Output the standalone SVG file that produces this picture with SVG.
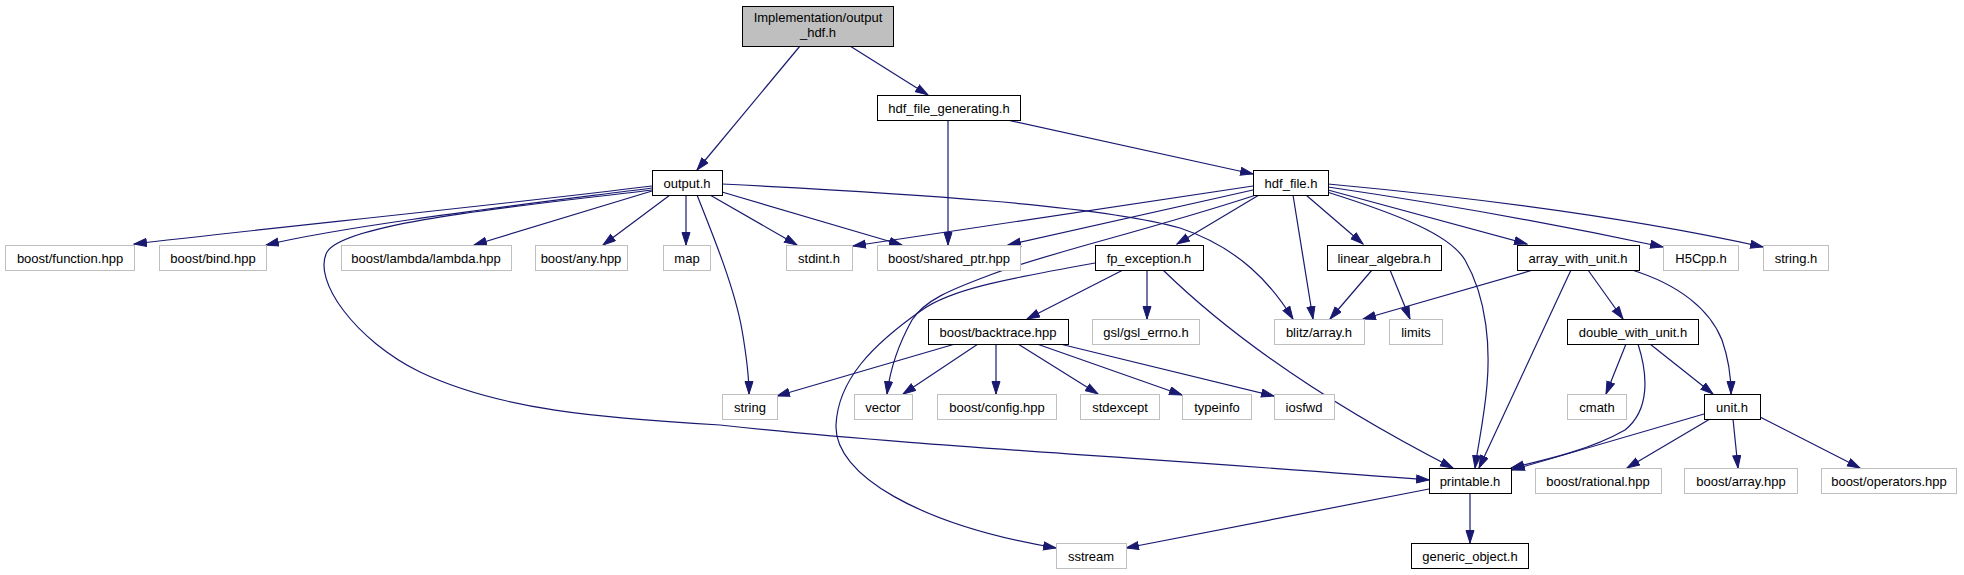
<svg xmlns="http://www.w3.org/2000/svg" width="1964" height="575" viewBox="0 0 1964 575">
<style>
.n rect{fill:#fff;stroke:#000;stroke-width:1}
.g rect{fill:#fff;stroke:#bfbfbf;stroke-width:1}
.r rect{fill:#bfbfbf;stroke:#000;stroke-width:1}
text{font-family:"Liberation Sans",Arial,sans-serif;font-size:13px;text-anchor:middle;fill:#000}
.e path{fill:none;stroke:#191970;stroke-width:1.2;marker-end:url(#a)}
</style>
<defs>
<marker id="a" markerUnits="userSpaceOnUse" markerWidth="14" markerHeight="10" refX="13" refY="4.5" orient="auto">
<path d="M0.5,0.5 L13,4.5 L0.5,8.5 z" fill="#191970" stroke="#191970" stroke-width="1"/>
</marker>
</defs>
<rect width="1964" height="575" fill="#fff"/>
<g class="e" id="edges">
<path d="M800,46 L697,170"/>
<path d="M850,46 L928,95"/>
<path d="M948,120 L948,245"/>
<path d="M1007,120 L1253,174"/>
<path d="M652,186 C500,205 250,230 134,244"/>
<path d="M652,188 C520,205 350,225 266,245"/>
<path d="M652,190 C530,205 345,222 327,252 C312,280 355,340 420,372 C500,410 600,418 720,425 C900,445 1150,458 1429,480"/>
<path d="M652,191 L474,245"/>
<path d="M670,195 L603,245"/>
<path d="M686,195 L686,245"/>
<path d="M697,195 C715,240 735,290 742,330 C748,365 749,380 749,394"/>
<path d="M710,195 L797,245"/>
<path d="M722,192 L902,245"/>
<path d="M722,184 C900,193 1100,205 1180,228 C1240,248 1272,285 1293,319"/>
<path d="M1253,186 L853,246"/>
<path d="M1253,190 L1008,245"/>
<path d="M1256,195 C1150,230 1040,255 990,275 C950,290 925,300 912,320 C898,345 890,370 887,394"/>
<path d="M1259,195 L1177,244"/>
<path d="M1293,195 L1313,319"/>
<path d="M1306,195 L1363,244"/>
<path d="M1327,192 C1400,215 1450,235 1465,260 C1488,300 1490,350 1487,385 C1484,420 1478,445 1475,468"/>
<path d="M1328,190 L1527,244"/>
<path d="M1328,187 C1450,205 1560,225 1663,247"/>
<path d="M1328,184 C1500,200 1650,222 1763,247"/>
<path d="M1123,270 L1027,319"/>
<path d="M1147,270 L1147,319"/>
<path d="M1163,270 C1240,345 1340,410 1453,468"/>
<path d="M1095,263 C1000,280 950,290 922,310 C872,345 838,380 836,425 C834,475 920,525 1056,548"/>
<path d="M955,344 L777,396"/>
<path d="M978,344 L903,394"/>
<path d="M996,344 L996,394"/>
<path d="M1018,344 L1098,394"/>
<path d="M1037,344 L1182,395"/>
<path d="M1060,344 L1274,396"/>
<path d="M1372,270 L1330,319"/>
<path d="M1390,270 L1410,319"/>
<path d="M1533,270 L1363,319"/>
<path d="M1571,270 L1479,468"/>
<path d="M1588,270 L1623,319"/>
<path d="M1632,270 C1680,285 1710,310 1722,340 C1729,360 1731,380 1731,394"/>
<path d="M1626,344 L1606,394"/>
<path d="M1650,344 L1713,394"/>
<path d="M1638,344 C1648,375 1650,410 1625,430 C1590,450 1545,460 1511,468"/>
<path d="M1704,414 L1512,470"/>
<path d="M1710,419 L1627,468"/>
<path d="M1733,419 L1738,468"/>
<path d="M1760,417 L1860,468"/>
<path d="M1429,489 L1126,548"/>
<path d="M1470,494 L1470,543"/>
</g>
<g id="n0" class="r"><rect x="742.5" y="6.5" width="151" height="40"/><text x="818" y="22">Implementation/output</text><text x="818" y="37">_hdf.h</text></g>
<g id="n1" class="n"><rect x="877.5" y="95.5" width="143" height="25"/><text x="949" y="112.5">hdf_file_generating.h</text></g>
<g id="n2" class="n"><rect x="652.5" y="170.5" width="70" height="25"/><text x="687" y="187.5">output.h</text></g>
<g id="n3" class="n"><rect x="1253.5" y="170.5" width="75" height="25"/><text x="1291" y="187.5">hdf_file.h</text></g>
<g id="n4" class="g"><rect x="5.5" y="245.5" width="129" height="25"/><text x="70" y="262.5">boost/function.hpp</text></g>
<g id="n5" class="g"><rect x="159.5" y="245.5" width="107" height="25"/><text x="213" y="262.5">boost/bind.hpp</text></g>
<g id="n6" class="g"><rect x="341.5" y="245.5" width="170" height="25"/><text x="426" y="262.5">boost/lambda/lambda.hpp</text></g>
<g id="n7" class="g"><rect x="535.5" y="245.5" width="92" height="25"/><text x="581" y="262.5">boost/any.hpp</text></g>
<g id="n8" class="g"><rect x="663.5" y="245.5" width="47" height="25"/><text x="687" y="262.5">map</text></g>
<g id="n9" class="g"><rect x="786.5" y="245.5" width="66" height="25"/><text x="819" y="262.5">stdint.h</text></g>
<g id="n10" class="g"><rect x="877.5" y="245.5" width="143" height="25"/><text x="949" y="262.5">boost/shared_ptr.hpp</text></g>
<g id="n11" class="n"><rect x="1095.5" y="245.5" width="108" height="25"/><text x="1149" y="262.5">fp_exception.h</text></g>
<g id="n12" class="n"><rect x="1327.5" y="245.5" width="114" height="25"/><text x="1384" y="262.5">linear_algebra.h</text></g>
<g id="n13" class="n"><rect x="1517.5" y="245.5" width="122" height="25"/><text x="1578" y="262.5">array_with_unit.h</text></g>
<g id="n14" class="g"><rect x="1663.5" y="245.5" width="75" height="25"/><text x="1701" y="262.5">H5Cpp.h</text></g>
<g id="n15" class="g"><rect x="1763.5" y="245.5" width="65" height="25"/><text x="1796" y="262.5">string.h</text></g>
<g id="n16" class="n"><rect x="928.5" y="319.5" width="140" height="25"/><text x="998" y="336.5">boost/backtrace.hpp</text></g>
<g id="n17" class="g"><rect x="1092.5" y="319.5" width="107" height="25"/><text x="1146" y="336.5">gsl/gsl_errno.h</text></g>
<g id="n18" class="g"><rect x="1274.5" y="319.5" width="90" height="25"/><text x="1319" y="336.5">blitz/array.h</text></g>
<g id="n19" class="g"><rect x="1389.5" y="319.5" width="53" height="25"/><text x="1416" y="336.5">limits</text></g>
<g id="n20" class="n"><rect x="1567.5" y="319.5" width="131" height="25"/><text x="1633" y="336.5">double_with_unit.h</text></g>
<g id="n21" class="g"><rect x="722.5" y="394.5" width="55" height="25"/><text x="750" y="411.5">string</text></g>
<g id="n22" class="g"><rect x="854.5" y="394.5" width="58" height="25"/><text x="883" y="411.5">vector</text></g>
<g id="n23" class="g"><rect x="937.5" y="394.5" width="119" height="25"/><text x="997" y="411.5">boost/config.hpp</text></g>
<g id="n24" class="g"><rect x="1080.5" y="394.5" width="79" height="25"/><text x="1120" y="411.5">stdexcept</text></g>
<g id="n25" class="g"><rect x="1182.5" y="394.5" width="69" height="25"/><text x="1217" y="411.5">typeinfo</text></g>
<g id="n26" class="g"><rect x="1274.5" y="394.5" width="60" height="25"/><text x="1304" y="411.5">iosfwd</text></g>
<g id="n27" class="g"><rect x="1567.5" y="394.5" width="59" height="25"/><text x="1597" y="411.5">cmath</text></g>
<g id="n28" class="n"><rect x="1704.5" y="394.5" width="56" height="25"/><text x="1732" y="411.5">unit.h</text></g>
<g id="n29" class="n"><rect x="1429.5" y="468.5" width="82" height="25"/><text x="1470" y="485.5">printable.h</text></g>
<g id="n30" class="g"><rect x="1535.5" y="468.5" width="126" height="25"/><text x="1598" y="485.5">boost/rational.hpp</text></g>
<g id="n31" class="g"><rect x="1684.5" y="468.5" width="113" height="25"/><text x="1741" y="485.5">boost/array.hpp</text></g>
<g id="n32" class="g"><rect x="1821.5" y="468.5" width="135" height="25"/><text x="1889" y="485.5">boost/operators.hpp</text></g>
<g id="n33" class="g"><rect x="1056.5" y="543.5" width="70" height="25"/><text x="1091" y="560.5">sstream</text></g>
<g id="n34" class="n"><rect x="1411.5" y="543.5" width="117" height="25"/><text x="1470" y="560.5">generic_object.h</text></g>
</svg>
